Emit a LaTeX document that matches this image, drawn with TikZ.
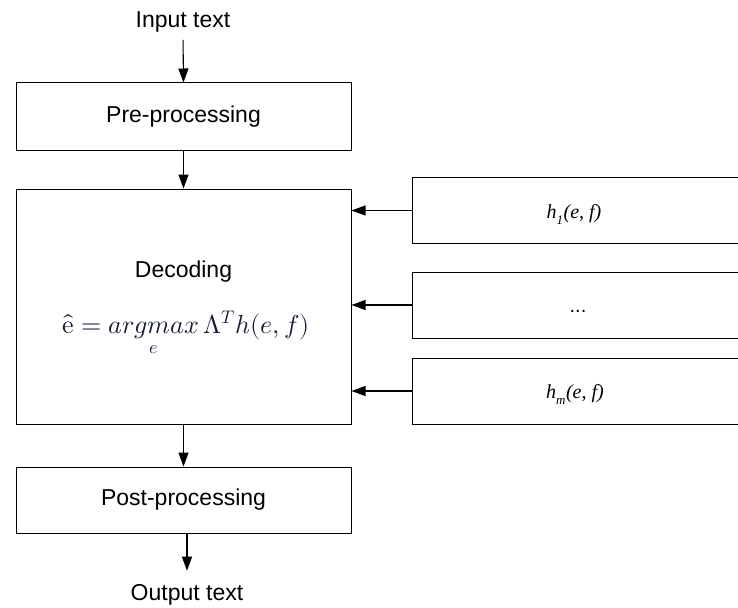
\documentclass[tikz,border=0pt]{standalone}
\usepackage{fontspec}
\usepackage{unicode-math}
\setmainfont{Liberation Sans}
\setmathfont{Latin Modern Math}
\newfontfamily\serifit{Liberation Serif}
\usetikzlibrary{arrows.meta}
\begin{document}
\begin{tikzpicture}[x=1pt,y=-1pt,
  box/.style={draw=black,line width=1pt,rectangle,inner sep=0pt,
    font=\fontsize{23}{27}\selectfont},
  hbox/.style={draw=black,line width=1pt,rectangle,inner sep=0pt,
    minimum width=326pt,minimum height=66pt},
  lbl/.style={font=\fontsize{23}{27}\selectfont,inner sep=3pt},
  arr/.style={line width=1.1pt,-{Triangle[width=10pt,length=14pt]}},
  hfont/.style={font=\fontsize{20}{24}\selectfont\serifit\itshape}
]
\useasboundingbox (0,0) rectangle (738,607);
\node[lbl,anchor=base] (in) at (183,28) {Input text};
\node[box,minimum width=335pt,minimum height=67pt] (pre) at (183.5,116.5) {Pre-processing};
\node[box,minimum width=335pt,minimum height=235pt] (dec) at (183.5,306.5) {};
\node[lbl,anchor=base] (dectxt) at (183.5,277) {Decoding};
\node[anchor=base,inner sep=0pt,text={rgb,255:red,25;green,30;blue,55},
  font=\fontsize{26}{31}\selectfont] (formula) at (186,333)
  {$\hat{\symup{e}} = \mathop{\symit{argmax}}\limits_{e}\Lambda^{T} h(e,f)$};
\node[box,minimum width=335pt,minimum height=66pt] (post) at (183.5,500) {Post-processing};
\node[lbl,anchor=base] (out) at (187,600) {Output text};

\node[hbox] (h1) at (575,210.5) {};
\node[hbox] (h2) at (575,305) {};
\node[hbox] (h3) at (575,391) {};
\node[hfont,anchor=base,inner sep=0pt] (h1t) at (574,218) {h\textsubscript{\fontsize{13}{15}\selectfont\raisebox{-2pt}{\itshape 1}}(e, f)};
\node[font=\fontsize{20}{24}\selectfont,anchor=base,inner sep=0pt] (h2t) at (578,312) {...};
\node[hfont,anchor=base,inner sep=0pt] (h3t) at (575,398) {h\textsubscript{\fontsize{13}{15}\selectfont\raisebox{-2pt}{\itshape m}}(e, f)};

\draw[arr,shorten <=4pt] (in.south) -- (pre.north);
\draw[arr] (pre.south) -- (dec.north);
\draw[arr] (dec.south) -- (post.north);
\draw[arr,shorten >=10pt] (post.south -| out) -- (out.north);
\draw[arr] (h1.west) -- (h1.west -| dec.east);
\draw[arr] (h2.west) -- (h2.west -| dec.east);
\draw[arr] (h3.west) -- (h3.west -| dec.east);
\end{tikzpicture}
\end{document}
